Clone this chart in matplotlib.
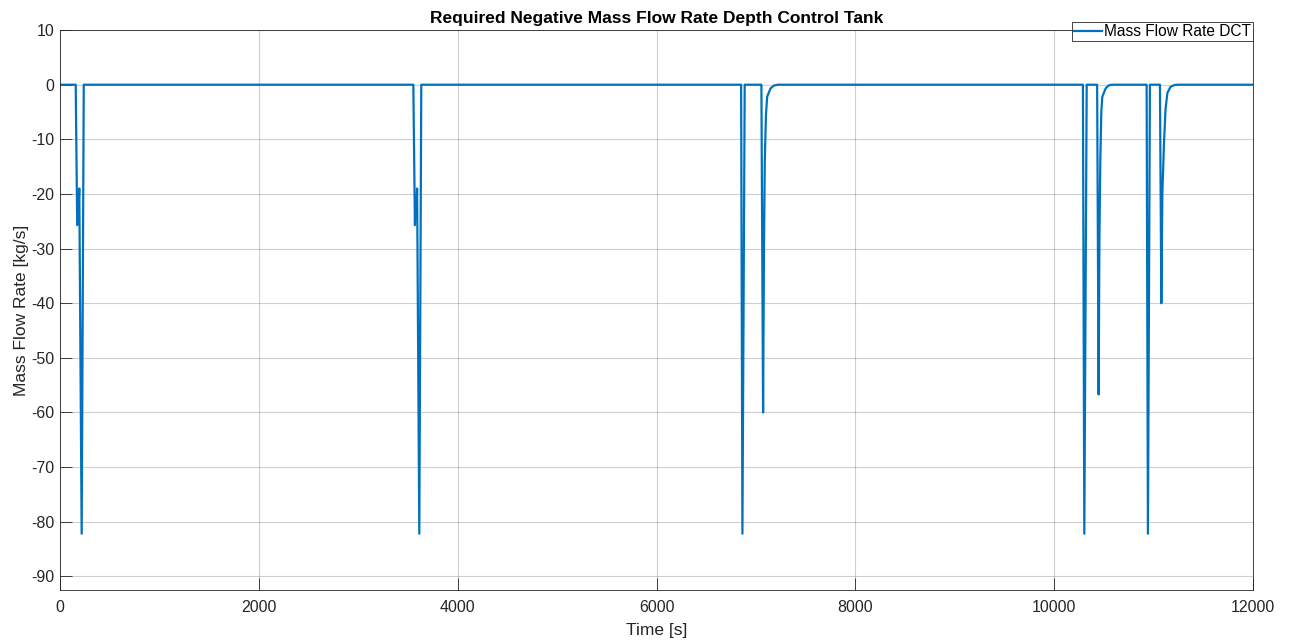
import numpy as np
import matplotlib
matplotlib.use("Agg")
import matplotlib.pyplot as plt

plt.rcParams['font.family'] = ['Liberation Sans', 'DejaVu Sans']
plt.rcParams['axes.unicode_minus'] = False

# Mass flow events: (time [s], mass flow rate [kg/s]) breakpoints
event1_t = [155, 170, 176, 181, 191, 215, 236]
event1_v = [0, -25.7, -20.5, -24.0, -19.0, -82.2, 0]

event2_t = [3552, 3568, 3574, 3579, 3590, 3612, 3632]
event2_v = [0, -25.7, -20.5, -24.0, -19.0, -82.2, 0]

event3_t = [6850, 6863, 6886,
            7054, 7071, 7080, 7088, 7100, 7112, 7145, 7180, 7220]
event3_v = [0, -82.2, 0,
            0, -60.0, -30.0, -14.0, -5.5, -2.2, -0.7, -0.15, 0]

event4_t = [10289, 10303, 10327,
            10432, 10447, 10455, 10464, 10474, 10484, 10517, 10545, 10580]
event4_v = [0, -82.2, 0,
            0, -56.7, -28.0, -13.8, -5.0, -2.2, -0.7, -0.15, 0]

event5_t = [10930, 10943, 10963,
            11064, 11078, 11088, 11105, 11120, 11139, 11170, 11210, 11250]
event5_v = [0, -82.2, 0,
            0, -40.0, -20.0, -10.5, -4.5, -1.5, -0.4, -0.05, 0]

t_start, t_end = 0, 12000

time = np.array([t_start] + event1_t + event2_t + event3_t + event4_t + event5_t + [t_end], dtype=float)
mdot = np.array([0] + event1_v + event2_v + event3_v + event4_v + event5_v + [0], dtype=float)

xticks = [0, 2000, 4000, 6000, 8000, 10000, 12000]
yticks = list(range(-90, 11, 10))

fig = plt.figure(figsize=(12.94, 6.40), dpi=100)
ax = fig.add_axes([0.0466, 0.0781, 0.9217, 0.8749])

ax.plot(time, mdot, color='#0072BD', lw=1.6, label='Mass Flow Rate DCT')

ax.set_xlim(0, 12000)
ax.set_ylim(-92.5, 10)
ax.set_xticks(xticks)
ax.set_yticks(yticks)

ax.grid(True, color='#262626', alpha=0.22, lw=0.8)
ax.set_axisbelow(True)

for s in ax.spines.values():
    s.set_color('#262626')
    s.set_linewidth(0.6)

ax.tick_params(axis='both', direction='in', length=8.5, width=0.6,
               colors='#262626', labelsize=11.5, top=False, right=False)
ax.tick_params(axis='x', pad=7)
ax.tick_params(axis='y', pad=4)

ax.set_xlabel('Time [s]', fontsize=12.5, color='#262626', labelpad=6)
ax.set_ylabel('Mass Flow Rate [kg/s]', fontsize=12.5, color='#262626', labelpad=1.5)
ax.set_title('Required Negative Mass Flow Rate Depth Control Tank',
             fontsize=12.5, fontweight='bold', pad=5)

leg = ax.legend(loc='upper right', bbox_to_anchor=(1.0, 1.014), borderaxespad=0,
                fontsize=11.2, frameon=True, fancybox=False, framealpha=1,
                edgecolor='#262626', handlelength=1.8, handletextpad=0.15,
                borderpad=0.12)
leg.get_frame().set_linewidth(0.6)

fig.savefig('out.png', dpi=100, facecolor='white')
